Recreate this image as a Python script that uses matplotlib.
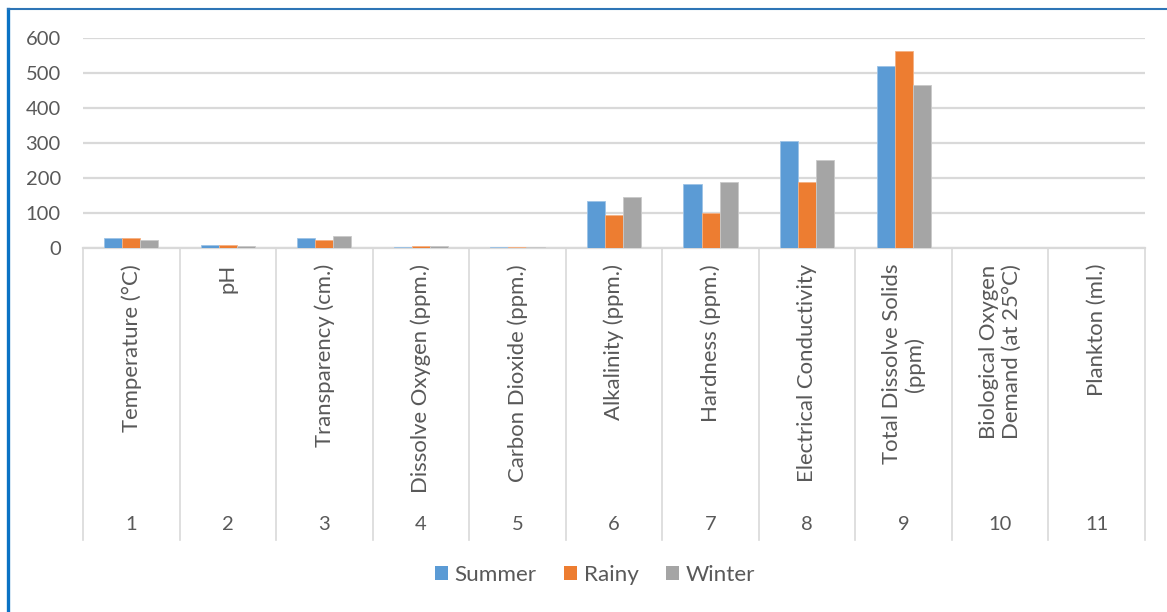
import matplotlib
matplotlib.use("Agg")
import matplotlib.pyplot as plt
from matplotlib import font_manager
from matplotlib.lines import Line2D
from matplotlib.patches import Patch
import numpy as np

categories = ["Temperature (°C)", "pH", "Transparency (cm.)", "Dissolve Oxygen (ppm.)",
              "Carbon Dioxide (ppm.)", "Alkalinity (ppm.)", "Hardness (ppm.)",
              "Electrical Conductivity", "Total Dissolve Solids\n(ppm)",
              "Biological Oxygen\nDemand (at 25°C)", "Plankton (ml.)"]
numbers = ["1", "2", "3", "4", "5", "6", "7", "8", "9", "10", "11"]
summer = [30, 7.4, 30, 4, 3, 135, 184, 307, 520, 0, 0]
rainy = [28, 7.2, 24, 4.5, 3, 93, 100, 188, 564, 0, 0]
winter = [23, 7.0, 33, 6.5, 3, 145, 188, 252, 466, 0, 0]
yticks = [0, 100, 200, 300, 400, 500, 600]

names = {f.name for f in font_manager.fontManager.ttflist}
fam = "Lato" if "Lato" in names else "DejaVu Sans"
plt.rcParams['font.family'] = [fam, 'DejaVu Sans']

W, H = 1167, 612
fig = plt.figure(figsize=(W / 100, H / 100), dpi=100)
renderer = fig.canvas.get_renderer()

def fit_size(s, target_px, base=20, **kw):
    t = fig.text(0, 0, s, fontsize=base, **kw)
    w = t.get_window_extent(renderer).width
    t.remove()
    return base * target_px / w

lab_fs = fit_size("Dissolve Oxygen (ppm.)", 230)
tick_fs = fit_size("600", 35)
leg_fs = fit_size("Summer", 82)

x0, x1, ytop, ybot = 83, 1145, 38, 248
ax = fig.add_axes([x0 / W, 1 - ybot / H, (x1 - x0) / W, (ybot - ytop) / H])

n = len(categories)
x = np.arange(n)
bw = 0.187
cols = ["#5B9BD5", "#ED7D31", "#A5A5A5"]
edges = ["#9DC3E6", "#F4B183", "#C9C9C9"]
for k, (vals, lab) in enumerate(zip([summer, rainy, winter], ["Summer", "Rainy", "Winter"])):
    ax.bar(x + (k - 1) * bw, vals, width=bw, color=cols[k], edgecolor=edges[k],
           linewidth=0.6, label=lab, zorder=3)

ax.set_xlim(-0.5, n - 0.5)
ax.set_ylim(0, 600)
ax.set_yticks(yticks)
ax.set_yticklabels([str(v) for v in yticks], fontsize=tick_fs, color="#595959")
ax.tick_params(axis='y', length=0, pad=16)
ax.set_xticks([])
ax.grid(axis='y', color="#D9D9D9", linewidth=1.6, zorder=0)
for s in ["top", "right", "left"]:
    ax.spines[s].set_visible(False)
ax.spines["bottom"].set_color("#D9D9D9")
ax.spines["bottom"].set_linewidth(1.6)

ah = ybot - ytop
def ay(py):
    return -(py - ybot) / ah

trans = ax.get_xaxis_transform()
for b in np.arange(n + 1) - 0.5:
    ax.plot([b, b], [0, ay(540)], transform=trans, color="#D9D9D9", lw=1.2, clip_on=False)
for i in range(n):
    ax.text(x[i], ay(264), categories[i], transform=trans, rotation=90, ha='center',
            va='top', multialignment='center', fontsize=lab_fs, color="#595959",
            linespacing=1.15)
    ax.text(x[i], ay(525), numbers[i], transform=trans, ha='center', va='center',
            fontsize=tick_fs, color="#595959")

handles = [Patch(facecolor=c) for c in cols]
fig.legend(handles, ["Summer", "Rainy", "Winter"], loc='center',
           bbox_to_anchor=(595 / W, 1 - 575 / H), ncol=3, frameon=False,
           fontsize=leg_fs, handlelength=0.6, handleheight=0.6, handletextpad=0.3,
           columnspacing=1.2, labelcolor="#595959")

fig.add_artist(Line2D([8 / W, 8 / W], [0, 1 - 9 / H], color="#0B72C4", lw=2.4))
fig.add_artist(Line2D([8 / W, 1], [1 - 9 / H, 1 - 9 / H], color="#2E75B6", lw=1.5))

fig.savefig("out.png", dpi=100)
